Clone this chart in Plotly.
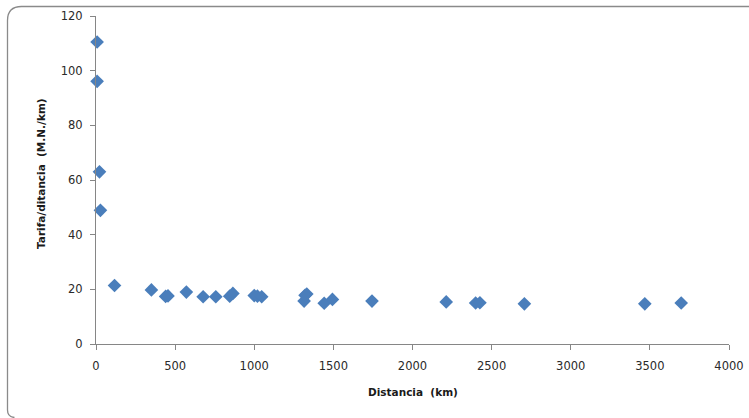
import plotly.graph_objects as go

# Distance (km) and fare per km (M.N./km) for each route
distancia_km = [7, 7, 22, 28, 117, 350, 440, 455, 571, 677, 757, 845, 865,
                1000, 1020, 1047, 1315, 1321, 1332, 1442, 1494, 1744,
                2213, 2399, 2426, 2707, 3468, 3698]
tarifa_km = [110.5, 96.1, 63.0, 48.9, 21.4, 19.8, 17.4, 17.6, 19.0, 17.3, 17.3,
             17.5, 18.5, 17.7, 17.5, 17.3, 15.7, 17.8, 18.3, 14.9, 16.3, 15.7,
             15.4, 15.0, 15.1, 14.7, 14.7, 15.0]

x_ticks = [0, 500, 1000, 1500, 2000, 2500, 3000, 3500, 4000]
y_ticks = [0, 20, 40, 60, 80, 100, 120]

W, H = 749, 418
ML, MR, MT, MB = 96, 20, 16, 74
PW, PH = W - ML - MR, H - MT - MB


def px(x):
    return (x - ML) / PW


def py(y):
    return (H - MB - y) / PH


fig = go.Figure()
fig.add_trace(go.Scatter(
    x=distancia_km, y=tarifa_km, mode="markers",
    marker=dict(symbol="diamond", size=10.5, color="#4a7ebb",
                line=dict(width=0)),
    cliponaxis=False, showlegend=False,
))

axis_font = dict(family="DejaVu Sans, Verdana, sans-serif", size=11.5, color="#2a2a2a")
common = dict(showgrid=False, zeroline=False, showline=True, linecolor="#868686",
              linewidth=1, ticks="outside", ticklen=5, tickcolor="#868686",
              tickfont=axis_font, automargin=False, ticklabeloverflow="allow")

fig.update_xaxes(range=[0, 4000], tickvals=x_ticks, ticklabelstandoff=6, **common)
fig.update_yaxes(range=[0, 120], tickvals=y_ticks, ticklabelstandoff=5, **common)

title_font = dict(family="DejaVu Sans, Verdana, sans-serif", size=10.5, color="#1a1a1a")
fig.add_annotation(text="<b>Distancia  (km)</b>", x=px(413), y=py(392),
                   xanchor="center", yanchor="middle",
                   xref="paper", yref="paper", showarrow=False, font=title_font)
fig.add_annotation(text="<b>Tarifa/ditancia  (M.N./km)</b>", x=px(41), y=py(174),
                   xanchor="center", yanchor="middle",
                   xref="paper", yref="paper", showarrow=False, textangle=-90,
                   font=title_font)

# Chart-area border with rounded corners, running off the right and bottom edges
x0, y0, r = 7.5, 6.5, 14
path = (f"M {px(W)} {py(y0)} L {px(x0 + r)} {py(y0)} "
        f"Q {px(x0)} {py(y0)} {px(x0)} {py(y0 + r)} L {px(x0)} {py(H - 8)} "
        f"Q {px(x0)} {py(H - 1)} {px(x0 + 7)} {py(H - 0.5)}")
fig.add_shape(type="path", path=path, xref="paper", yref="paper",
              line=dict(color="#8a8a8a", width=1.3), layer="below")

fig.update_layout(width=W, height=H, margin=dict(l=ML, r=MR, t=MT, b=MB, autoexpand=False),
                  plot_bgcolor="white", paper_bgcolor="white")

fig.write_html("out.html")
